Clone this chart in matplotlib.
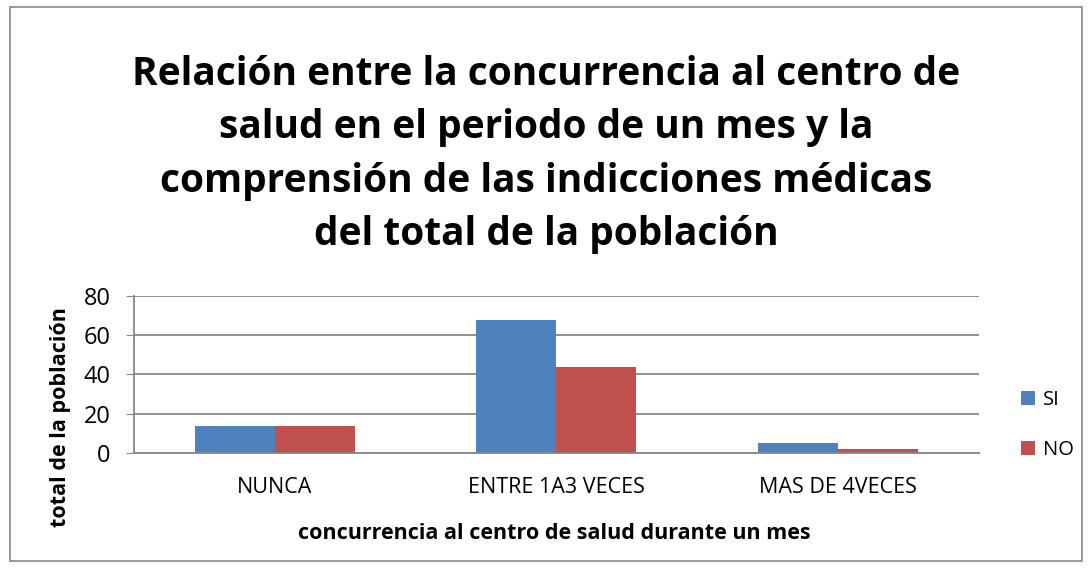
import matplotlib.pyplot as plt
import numpy as np
from matplotlib.patches import Rectangle

# datos
categorias = ['NUNCA', 'ENTRE 1A3 VECES', 'MAS DE 4VECES']
valores_si = [14, 68, 5]
valores_no = [14, 44, 2]
series = ['SI', 'NO']
ticks_y = [0, 20, 40, 60, 80]

plt.rcParams['font.family'] = ['Open Sans', 'DejaVu Sans']

fig = plt.figure(figsize=(10.92, 5.68), dpi=100)
ax = fig.add_axes([0.1227, 0.2025, 0.7738, 0.2764])

x = np.arange(len(categorias))
ancho = 0.284
ax.bar(x - ancho / 2, valores_si, ancho, color='#4f81bd', label=series[0])
ax.bar(x + ancho / 2, valores_no, ancho, color='#c0504d', label=series[1])

ax.set_xlim(-0.5, 2.5)
ax.set_ylim(0, 80)
ax.set_yticks(ticks_y)
ax.grid(axis='y', color='#868686', linewidth=1.3)
ax.set_axisbelow(True)
for s in ['top', 'right']:
    ax.spines[s].set_visible(False)
ax.spines['left'].set_color('#868686')
ax.spines['bottom'].set_color('#868686')
ax.spines['left'].set_linewidth(1.3)
ax.spines['bottom'].set_linewidth(1.3)
ax.set_xticks(x)
ax.set_xticklabels(categorias, fontsize=15.5)
ax.tick_params(axis='x', length=0, pad=17)
ax.tick_params(axis='y', length=6, color='#868686', labelsize=17, pad=11)

fig.text(0.5, 0.728, 'Relación entre la concurrencia al centro de\nsalud en el periodo de un mes y la\n'
         'comprensión de las indicciones médicas\ndel total de la población',
         ha='center', va='center', fontsize=28, fontweight='bold', linespacing=1.48)
fig.text(0.055, 0.266, 'total de la población', rotation=90, ha='center', va='center',
         fontsize=15.5, fontweight='bold')
fig.text(0.508, 0.0616, 'concurrencia al centro de salud durante un mes', ha='center', va='center',
         fontsize=15.5, fontweight='bold')

ax.legend(loc='center left', bbox_to_anchor=(1.028, 0.18), frameon=False, fontsize=14.5,
          handlelength=0.7, handleheight=0.7, handletextpad=0.4, labelspacing=1.5)

fig.patches.append(Rectangle((0.009, 0.012), 0.982, 0.976, transform=fig.transFigure,
                             fill=False, edgecolor='#868686', linewidth=1.2))

plt.savefig('out.png', dpi=100)
